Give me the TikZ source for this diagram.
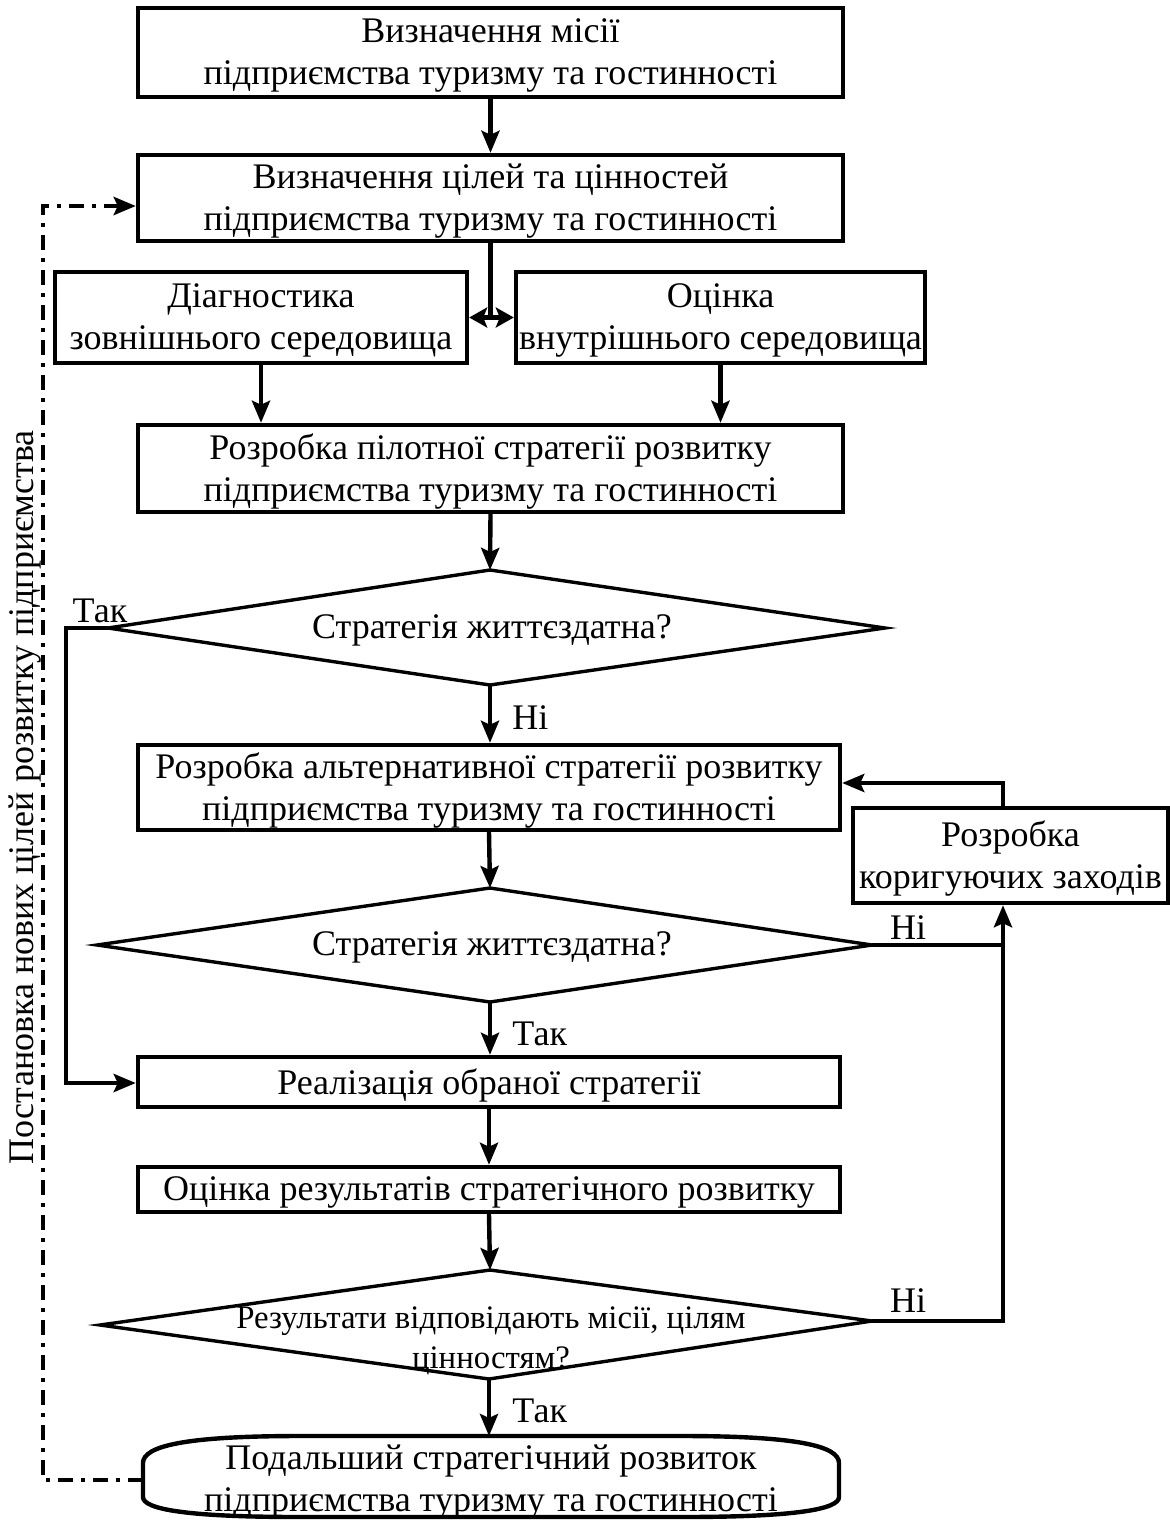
\documentclass[tikz,border=0pt]{standalone}
\usepackage{fontspec}
\setmainfont{Liberation Serif}
\usetikzlibrary{arrows.meta,calc}
\begin{document}
\begin{tikzpicture}[x=0.5pt,y=-0.5pt,
  every node/.style={font=\fontsize{18}{21}\selectfont, align=center, inner sep=0pt},
  box/.style={draw, line width=2.2pt, minimum width=#1},
  tx/.style={yshift=-1.5pt},
  arr/.style={line width=2.2pt, -{Stealth[length=11pt,width=9pt,inset=2pt]}},
  sarr/.style={line width=2.2pt, -{Stealth[length=9pt,width=10pt,inset=2pt]}},
  ln/.style={line width=2.2pt},
  dia/.style={line width=1.7pt, line join=miter},
  lbl/.style={font=\fontsize{18}{21}\selectfont},
  dd/.style={line width=2.4pt, dash pattern=on 7.5pt off 4.2pt on 1.6pt off 4.2pt}
]
\useasboundingbox (0,0) rectangle (1170,1521);

% boxes
\node[box=352.5pt, minimum height=44.5pt] (b1) at (490.5,52.5) {};
\node[tx] (b1t) at (b1) {Визначення місії\\підприємства туризму та гостинності};
\node[box=352.5pt, minimum height=43pt] (b2) at (490.5,198) {};
\node[tx] (b2t) at (b2) {Визначення цілей та цінностей\\підприємства туризму та гостинності};
\node[box=206pt, minimum height=45.5pt] (b3) at (261,317.5) {};
\node[tx] (b3t) at (b3) {Діагностика\\зовнішнього середовища};
\node[box=204.5pt, minimum height=45.5pt] (b4) at (720.5,317.5) {};
\node[tx] (b4t) at (b4) {Оцінка\\внутрішнього середовища};
\node[box=352.5pt, minimum height=43.5pt] (b5) at (490.5,468.5) {};
\node[tx] (b5t) at (b5) {Розробка пілотної стратегії розвитку\\підприємства туризму та гостинності};
\node[box=351pt, minimum height=42.5pt] (b6) at (489,787.5) {};
\node[tx] (b6t) at (b6) {Розробка альтернативної стратегії розвитку\\підприємства туризму та гостинності};
\node[box=157.5pt, minimum height=47.5pt] (b7) at (1010.5,855.5) {};
\node[tx] (b7t) at (b7) {Розробка\\коригуючих заходів};
\node[box=351pt, minimum height=25pt] (b8) at (489,1082) {};
\node[tx] (b8t) at (b8) {Реалізація обраної стратегії};
\node[box=351pt, minimum height=22.5pt] (b9) at (489,1189.5) {};
\node[tx] (b9t) at (b9) {Оцінка результатів стратегічного розвитку};

% diamonds
\coordinate (d1t) at (490,570); \coordinate (d1b) at (490,685);
\coordinate (d1l) at (108,628); \coordinate (d1r) at (885,628);
\draw[dia] (d1t) -- (d1r) -- (d1b) -- (d1l) -- cycle;
\node (d1) at (492,630) {Стратегія життєздатна?};

\coordinate (d2t) at (490,888); \coordinate (d2b) at (490,1002);
\coordinate (d2l) at (97,945); \coordinate (d2r) at (872,945);
\draw[dia] (d2t) -- (d2r) -- (d2b) -- (d2l) -- cycle;
\node (d2) at (492,947) {Стратегія життєздатна?};

\coordinate (d3t) at (490,1270); \coordinate (d3b) at (489,1379);
\coordinate (d3l) at (100,1325); \coordinate (d3r) at (872,1321);
\draw[dia] (d3t) -- (d3r) -- (d3b) -- (d3l) -- cycle;
\node[font=\fontsize{16.4}{20}\selectfont] (d3) at (491,1341) {Результати відповідають місії, цілям\\цінностям?};

% terminal
\coordinate (ttop) at (490,1436);
\node (t) at (491,1482) {Подальший стратегічний розвиток\\підприємства туризму та гостинності};
\draw[ln] (143,1463) .. controls (143,1446) and (185,1436) .. (300,1436) -- (682,1436)
  .. controls (797,1436) and (839,1446) .. (839,1463) -- (839,1497)
  .. controls (839,1509) and (797,1517) .. (682,1517) -- (300,1517)
  .. controls (185,1517) and (143,1509) .. (143,1497) -- cycle;
\coordinate (tl) at (143,1480);

% connectors
\draw[arr] (b1.south) -- (b2.north);
\coordinate (j) at (b2.south |- b3.east);
\draw[ln] (b2.south) -- (j);
\draw[sarr] (j) -- (b3.east);
\draw[sarr] (j) -- (b4.west);
\draw[arr] (b3.south) -- (b3.south |- b5.north);
\draw[arr] (b4.south) -- (b4.south |- b5.north);
\draw[arr] (b5.south) -- (d1t);
\draw[arr] (d1b) -- (d1b |- b6.north);
\draw[arr] (b6.south) -- (d2t);
\draw[arr] (d2b) -- (d2b |- b8.north);
\draw[arr] (b8.south) -- (b8.south |- b9.north);
\draw[arr] (b9.south) -- (d3t);
\draw[arr] (d3b) -- (d3b |- ttop);

% Tak from d1 to b8
\draw[arr] (d1l) -- (66,628) |- ([yshift=-0.5pt]b8.west);
% corrective loop
\coordinate (cx) at (1003,945);
\draw[arr] (d2r) -- (cx) -- (cx |- b7.south);
\draw[ln] (d3r) -- (1003,1321) -- (cx);
\draw[arr] (cx |- b7.north) -- (1003,783) -- (b6.east |- 0,783);

% dash-dot feedback
\draw[dd, -{Stealth[length=11pt,width=9pt,inset=2pt]}] (tl) -- (43,1480) -- (43,206) -- (b2.west |- 0,206);

% labels
\node[lbl] (l1) at (100,611) {Так};
\node[lbl, anchor=west] (l2) at (512,718) {Ні};
\node[lbl] (l3) at (908,928) {Ні};
\node[lbl, anchor=west] (l4) at (512,1034) {Так};
\node[lbl] (l5) at (908,1301) {Ні};
\node[lbl, anchor=west] (l6) at (512,1411) {Так};

\node[rotate=90] (v) at (25,797) {Постановка нових цілей розвитку підприємства};
\end{tikzpicture}
\end{document}
